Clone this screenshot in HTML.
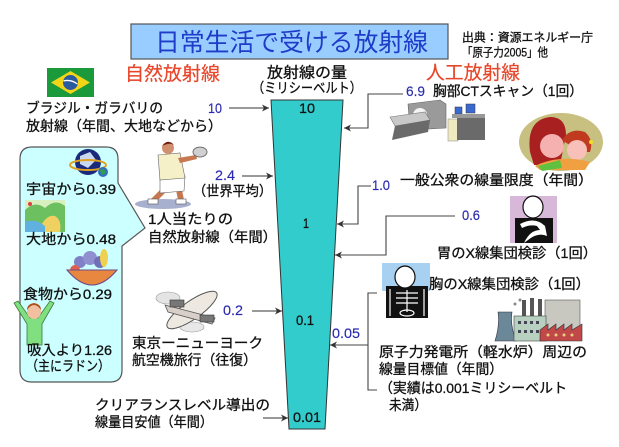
<!DOCTYPE html>
<html><head><meta charset="utf-8">
<style>
html,body{margin:0;padding:0;background:#fff;}
svg{display:block;}
text{font-family:"Liberation Sans","Noto Sans CJK JP",sans-serif;fill:#111;stroke:#111;stroke-width:0.3;}
.b{fill:#2a2ab0;stroke:#2a2ab0;stroke-width:0.15;}
.r{fill:#e8462a;stroke:#e8462a;stroke-width:0.2;}
.ti{fill:#1e3cc8;stroke:none;}
</style></head>
<body>
<svg width="619" height="447" viewBox="0 0 619 447" xmlns="http://www.w3.org/2000/svg">
<defs>
<marker id="ah" markerWidth="8" markerHeight="8" refX="7" refY="3.5" orient="auto" markerUnits="userSpaceOnUse">
<path d="M0,0 L7,3.5 L0,7 L2,3.5 z" fill="#333"/>
</marker>
</defs>
<rect width="619" height="447" fill="#fff"/>

<!-- Title -->
<rect x="131" y="24" width="317" height="35" fill="#99CCFF" stroke="#555" stroke-width="1.2"/>
<text class="ti" x="155" y="51" font-size="25" textLength="273" lengthAdjust="spacingAndGlyphs">日常生活で受ける放射線</text>
<text x="462" y="41.5" font-size="12" textLength="131" lengthAdjust="spacingAndGlyphs">出典：資源エネルギー庁</text>
<text x="462" y="56.5" font-size="12" textLength="86" lengthAdjust="spacingAndGlyphs">「原子力2005」他</text>

<text class="r" x="125" y="80" font-size="19" textLength="95" lengthAdjust="spacingAndGlyphs">自然放射線</text>
<text class="r" x="426" y="79" font-size="19" textLength="94" lengthAdjust="spacingAndGlyphs">人工放射線</text>
<text x="267" y="77.5" font-size="15" textLength="80" lengthAdjust="spacingAndGlyphs">放射線の量</text>
<text x="252" y="93" font-size="14" textLength="110" lengthAdjust="spacingAndGlyphs">（ミリシーベルト）</text>

<!-- Funnel -->
<polygon points="271,100 343,100 325,429 289,429" fill="#33CCCC" stroke="#333" stroke-width="1"/>
<text x="299" y="113" font-size="14" textLength="16" lengthAdjust="spacingAndGlyphs">10</text>
<text x="303" y="228" font-size="14" textLength="6" lengthAdjust="spacingAndGlyphs">1</text>
<text x="296" y="325" font-size="14" textLength="18" lengthAdjust="spacingAndGlyphs">0.1</text>
<text x="293" y="422" font-size="14" textLength="28" lengthAdjust="spacingAndGlyphs">0.01</text>

<!-- Brazil flag -->
<rect x="47" y="68" width="47" height="29" fill="#1a9a3a"/>
<polygon points="70.5,71 90,82.5 70.5,94 51,82.5" fill="#f2d516"/>
<circle cx="70.5" cy="82.5" r="7.5" fill="#2a5aa0"/>
<path d="M63.5,81 Q70.5,79 77.5,84" stroke="#fff" stroke-width="1.3" fill="none"/>

<text x="26" y="113" font-size="14" textLength="137" lengthAdjust="spacingAndGlyphs">ブラジル・ガラバリの</text>
<text x="26" y="131" font-size="14" textLength="196" lengthAdjust="spacingAndGlyphs">放射線（年間、大地などから）</text>
<text class="b" x="208" y="113" font-size="14" textLength="14" lengthAdjust="spacingAndGlyphs">10</text>
<line x1="229" y1="108" x2="269" y2="108" stroke="#333" stroke-width="1.1" marker-end="url(#ah)"/>

<!-- Callout -->
<path d="M32,147 L106,147 Q118,147 118,159 L118,183 L145,228 L122,246 L122,370 Q122,382 110,382 L32,382 Q20,382 20,370 L20,159 Q20,147 32,147 Z" fill="#CCFFFF" stroke="#555" stroke-width="1.2"/>

<!-- globe -->
<circle cx="88" cy="162" r="13" fill="#1a2a7a"/>
<polygon points="80,156 90,152 96,160 88,168 80,164" fill="#c8d8f0"/>
<ellipse cx="88" cy="165" rx="18" ry="5" fill="none" stroke="#e0a020" stroke-width="2"/>
<circle cx="103" cy="172" r="5" fill="#3070c0"/>
<path d="M100,170 L104,169 L106,173 L102,175z" fill="#30a040"/>
<text x="26" y="194" font-size="14" textLength="90" lengthAdjust="spacingAndGlyphs">宇宙から0.39</text>

<!-- landscape -->
<rect x="25" y="200" width="40" height="32" fill="#d8f0c0"/>
<path d="M25,210 Q35,200 45,208 Q55,198 65,206 L65,232 L25,232Z" fill="#6cc060"/>
<path d="M38,232 Q45,214 55,216 Q62,220 60,232" fill="#f0d060"/>
<path d="M25,222 Q35,218 45,226 L45,232 L25,232Z" fill="#60b0e0"/>
<circle cx="30" cy="204" r="2" fill="#e04040"/>
<text x="26" y="244" font-size="14" textLength="90" lengthAdjust="spacingAndGlyphs">大地から0.48</text>

<!-- fruit bowl -->
<circle cx="80" cy="262" r="6" fill="#8080c8"/>
<circle cx="90" cy="258" r="7" fill="#9090d0"/>
<circle cx="100" cy="262" r="6" fill="#7070b8"/>
<ellipse cx="104" cy="258" rx="4" ry="9" fill="#f0d050"/>
<circle cx="75" cy="270" r="5" fill="#e06050"/>
<path d="M67,270 Q92,300 117,270 Z" fill="#e88840" stroke="#6a4a8a" stroke-width="1"/>
<text x="23" y="299" font-size="14" textLength="89" lengthAdjust="spacingAndGlyphs">食物から0.29</text>

<!-- woman arms raised -->
<path d="M14,303 L18,301 L30,318 L38,318 L50,301 L54,303 L42,324 L42,345 L27,345 L27,324Z" fill="#80e080" stroke="#3a7a3a" stroke-width="0.8"/>
<circle cx="34" cy="312" r="7" fill="#f0c0a0"/>
<path d="M27,310 Q34,300 41,310 Q41,304 34,303 Q27,304 27,310Z" fill="#b05020"/>
<text x="27" y="355" font-size="14" textLength="85" lengthAdjust="spacingAndGlyphs">吸入より1.26</text>
<text x="26" y="371" font-size="14" textLength="84" lengthAdjust="spacingAndGlyphs">（主にラドン）</text>

<!-- tennis player -->
<ellipse cx="163" cy="204" rx="28" ry="5" fill="#a8b0d0"/>
<path d="M160,190 L150,200 L156,202 L166,192Z" fill="#c87850"/>
<path d="M176,190 L178,200 L184,200 L182,190Z" fill="#c87850"/>
<rect x="148" y="199" width="10" height="5" fill="#fff" stroke="#555" stroke-width="0.6"/>
<rect x="176" y="199" width="10" height="5" fill="#fff" stroke="#555" stroke-width="0.6"/>
<path d="M160,178 L185,176 L184,191 L160,193Z" fill="#fff" stroke="#666" stroke-width="0.6"/>
<path d="M158,155 L180,153 L185,178 L160,180Z" fill="#f5f0c8" stroke="#666" stroke-width="0.6"/>
<path d="M178,158 L196,155 L197,159 L180,163Z" fill="#c87850"/>
<ellipse cx="200" cy="152" rx="7" ry="5" fill="#d0d0d0" stroke="#555" stroke-width="0.8"/>
<circle cx="168" cy="148" r="6" fill="#d09070"/>
<path d="M162,146 Q168,138 174,145 Q170,142 162,146Z" fill="#702010"/>

<text class="b" x="215" y="180" font-size="14" textLength="20" lengthAdjust="spacingAndGlyphs">2.4</text>
<line x1="242" y1="176" x2="273" y2="176" stroke="#333" stroke-width="1.1" marker-end="url(#ah)"/>
<text x="193" y="196" font-size="14" textLength="79" lengthAdjust="spacingAndGlyphs">（世界平均）</text>
<text x="148" y="224" font-size="14" textLength="85" lengthAdjust="spacingAndGlyphs">1人当たりの</text>
<text x="148" y="242" font-size="14" textLength="129" lengthAdjust="spacingAndGlyphs">自然放射線（年間）</text>

<!-- airplane -->
<ellipse cx="168" cy="298" rx="12" ry="6" fill="#e4e4e4" stroke="#999" stroke-width="0.6"/>
<ellipse cx="192" cy="327" rx="12" ry="5" fill="#e8e8e8" stroke="#999" stroke-width="0.6"/>
<ellipse cx="192" cy="310" rx="30" ry="9" transform="rotate(-35 192 310)" fill="#ede8e0" stroke="#555" stroke-width="1"/>
<path d="M165,305 L215,318 L212,324 L168,312Z" fill="#d8d0c8" stroke="#555" stroke-width="0.8"/>
<rect x="170" y="300" width="14" height="7" fill="#777" stroke="#333" stroke-width="0.6"/>
<rect x="200" y="315" width="14" height="7" fill="#777" stroke="#333" stroke-width="0.6"/>
<text class="b" x="223" y="315" font-size="14" textLength="20" lengthAdjust="spacingAndGlyphs">0.2</text>
<line x1="252" y1="311" x2="282" y2="311" stroke="#333" stroke-width="1.1" marker-end="url(#ah)"/>
<text x="132" y="348" font-size="14" textLength="131" lengthAdjust="spacingAndGlyphs">東京ーニューヨーク</text>
<text x="132" y="365" font-size="14" textLength="125" lengthAdjust="spacingAndGlyphs">航空機旅行（往復）</text>

<text x="95" y="410" font-size="14" textLength="175" lengthAdjust="spacingAndGlyphs">クリアランスレベル導出の</text>
<text x="95" y="427" font-size="14" textLength="118" lengthAdjust="spacingAndGlyphs">線量目安値（年間）</text>
<line x1="263" y1="418" x2="288" y2="418" stroke="#333" stroke-width="1.1" marker-end="url(#ah)"/>

<!-- Right side -->
<text class="b" x="406" y="96" font-size="14" textLength="19" lengthAdjust="spacingAndGlyphs">6.9</text>
<text x="433" y="96" font-size="14" textLength="150" lengthAdjust="spacingAndGlyphs">胸部CTスキャン（1回）</text>
<polyline points="403,94 368,94 368,128 344,128" fill="none" stroke="#444" stroke-width="1.1" marker-end="url(#ah)"/>

<!-- CT scanner -->
<path d="M408,104 L440,100 L446,104 L446,128 L410,130Z" fill="#9a9a9a" stroke="#666" stroke-width="0.6"/>
<circle cx="420" cy="115" r="7" fill="#f4f4f4"/>
<path d="M390,117 L425,112 L430,120 L395,126Z" fill="#c8c8c8" stroke="#777" stroke-width="0.6"/>
<path d="M395,126 L430,120 L428,132 L392,140Z" fill="#6a6a6a"/>
<rect x="448" y="119" width="10" height="22" fill="#f0e8c0" stroke="#888" stroke-width="0.5"/>
<rect x="457" y="118" width="28" height="22" fill="#6a6a6a"/>
<rect x="455" y="107" width="7" height="7" fill="#3a6ad0" stroke="#333" stroke-width="0.5"/>
<rect x="466" y="104" width="9" height="9" fill="#3a6ad0" stroke="#333" stroke-width="0.5"/>
<rect x="452" y="114" width="33" height="4" fill="#999"/>

<!-- mother & child -->
<ellipse cx="561" cy="142" rx="42" ry="29" fill="#c8c080"/>
<path d="M530,152 Q526,120 550,117 Q566,117 566,135 L560,165 L534,165Z" fill="#a82020"/>
<circle cx="552" cy="146" r="12" fill="#f5b0b0"/>
<path d="M562,140 Q570,127 585,132 Q594,140 590,152 L580,152Z" fill="#c03a20"/>
<circle cx="577" cy="150" r="10" fill="#f8c0b8"/>
<circle cx="591" cy="142" r="2" fill="#f0e020"/>
<path d="M535,166 Q560,154 590,162 L585,170 L540,170Z" fill="#f0a040"/>
<path d="M538,166 L560,160 L562,168 L542,171Z" fill="#60c040"/>

<text class="b" x="372" y="190" font-size="14" textLength="18" lengthAdjust="spacingAndGlyphs">1.0</text>
<polyline points="371,186 358,186 358,224 337,224" fill="none" stroke="#444" stroke-width="1.1" marker-end="url(#ah)"/>
<text x="400" y="185" font-size="14" textLength="193" lengthAdjust="spacingAndGlyphs">一般公衆の線量限度（年間）</text>

<text class="b" x="462" y="220" font-size="14" textLength="18" lengthAdjust="spacingAndGlyphs">0.6</text>
<polyline points="455,216 386,216 386,255 335,255" fill="none" stroke="#444" stroke-width="1.1" marker-end="url(#ah)"/>

<!-- stomach figure -->
<rect x="510" y="196" width="47" height="47" fill="#d8b8d8"/>
<rect x="515" y="218" width="38" height="25" fill="#111"/>
<path d="M520,224 Q535,216 545,226 L547,236 Q538,232 528,240 L524,243 Q530,230 540,230 L537,226 Q530,224 522,228Z" fill="#fff"/>
<ellipse cx="533" cy="207" rx="10" ry="11" fill="#fff" stroke="#111" stroke-width="1.2"/>
<path d="M523,203 Q533,190 543,203 Q540,196 533,196 Q526,196 523,203Z" fill="#111"/>
<text x="437" y="258" font-size="14" textLength="160" lengthAdjust="spacingAndGlyphs">胃のX線集団検診（1回）</text>

<!-- chest x-ray figure -->
<rect x="382" y="263" width="48" height="28" fill="#a8d0f0"/>
<rect x="386" y="286" width="42" height="32" fill="#111"/>
<ellipse cx="405" cy="277" rx="10" ry="11" fill="#fff" stroke="#111" stroke-width="1.2"/>
<path d="M395,273 Q405,260 415,273 Q412,266 405,266 Q398,266 395,273Z" fill="#111"/>
<g stroke="#fff" stroke-width="1.2">
<line x1="407" y1="290" x2="407" y2="312"/>
<line x1="396" y1="293" x2="418" y2="293"/>
<line x1="396" y1="298" x2="418" y2="298"/>
<line x1="396" y1="303" x2="418" y2="303"/>
<line x1="390" y1="289" x2="390" y2="316"/>
<line x1="424" y1="289" x2="424" y2="316"/>
</g>
<ellipse cx="407" cy="313" rx="7" ry="3" fill="none" stroke="#fff" stroke-width="1.2"/>
<text x="429" y="289" font-size="14" textLength="161" lengthAdjust="spacingAndGlyphs">胸のX線集団検診（1回）</text>

<!-- factory -->
<path d="M495,341 Q500,325 498,312 L512,312 Q510,325 516,341Z" fill="#6a8898" stroke="#334" stroke-width="0.6"/>
<rect x="522" y="300" width="4" height="18" fill="#555"/>
<rect x="530" y="298" width="4" height="20" fill="#555"/>
<rect x="538" y="299" width="4" height="19" fill="#555"/>
<circle cx="520" cy="300" r="1.5" fill="#888"/>
<circle cx="515" cy="304" r="1.5" fill="#888"/>
<rect x="545" y="300" width="35" height="30" fill="#c8c8c0" stroke="#555" stroke-width="0.6"/>
<rect x="514" y="316" width="32" height="25" fill="#b8d0c0" stroke="#444" stroke-width="0.6"/>
<g fill="#445">
<rect x="518" y="321" width="3" height="3"/><rect x="524" y="321" width="3" height="3"/><rect x="530" y="321" width="3" height="3"/><rect x="536" y="321" width="3" height="3"/>
<rect x="518" y="330" width="3" height="3"/><rect x="524" y="330" width="3" height="3"/><rect x="530" y="330" width="3" height="3"/><rect x="536" y="330" width="3" height="3"/>
</g>
<path d="M540,341 L540,330 L548,324 L548,330 L556,324 L556,330 L564,324 L564,330 L572,324 L572,330 L582,324 L582,341Z" fill="#c04848" stroke="#333" stroke-width="0.6"/>
<g fill="#e8d080">
<circle cx="548" cy="335" r="1.5"/><circle cx="556" cy="335" r="1.5"/><circle cx="564" cy="335" r="1.5"/><circle cx="572" cy="335" r="1.5"/>
</g>

<!-- 0.05 bracket -->
<polyline points="377,293 368,293 368,390 377,390" fill="none" stroke="#444" stroke-width="1.1"/>
<line x1="368" y1="345" x2="330" y2="345" stroke="#444" stroke-width="1.1" marker-end="url(#ah)"/>
<text class="b" x="332" y="338" font-size="14" textLength="28" lengthAdjust="spacingAndGlyphs">0.05</text>

<text x="379" y="357" font-size="14" textLength="208" lengthAdjust="spacingAndGlyphs">原子力発電所（軽水炉）周辺の</text>
<text x="379" y="374" font-size="14" textLength="124" lengthAdjust="spacingAndGlyphs">線量目標値（年間）</text>
<text x="379" y="393" font-size="14" textLength="188" lengthAdjust="spacingAndGlyphs">（実績は0.001ミリシーベルト</text>
<text x="389" y="410" font-size="14" textLength="38" lengthAdjust="spacingAndGlyphs">未満）</text>
</svg>
</body></html>
